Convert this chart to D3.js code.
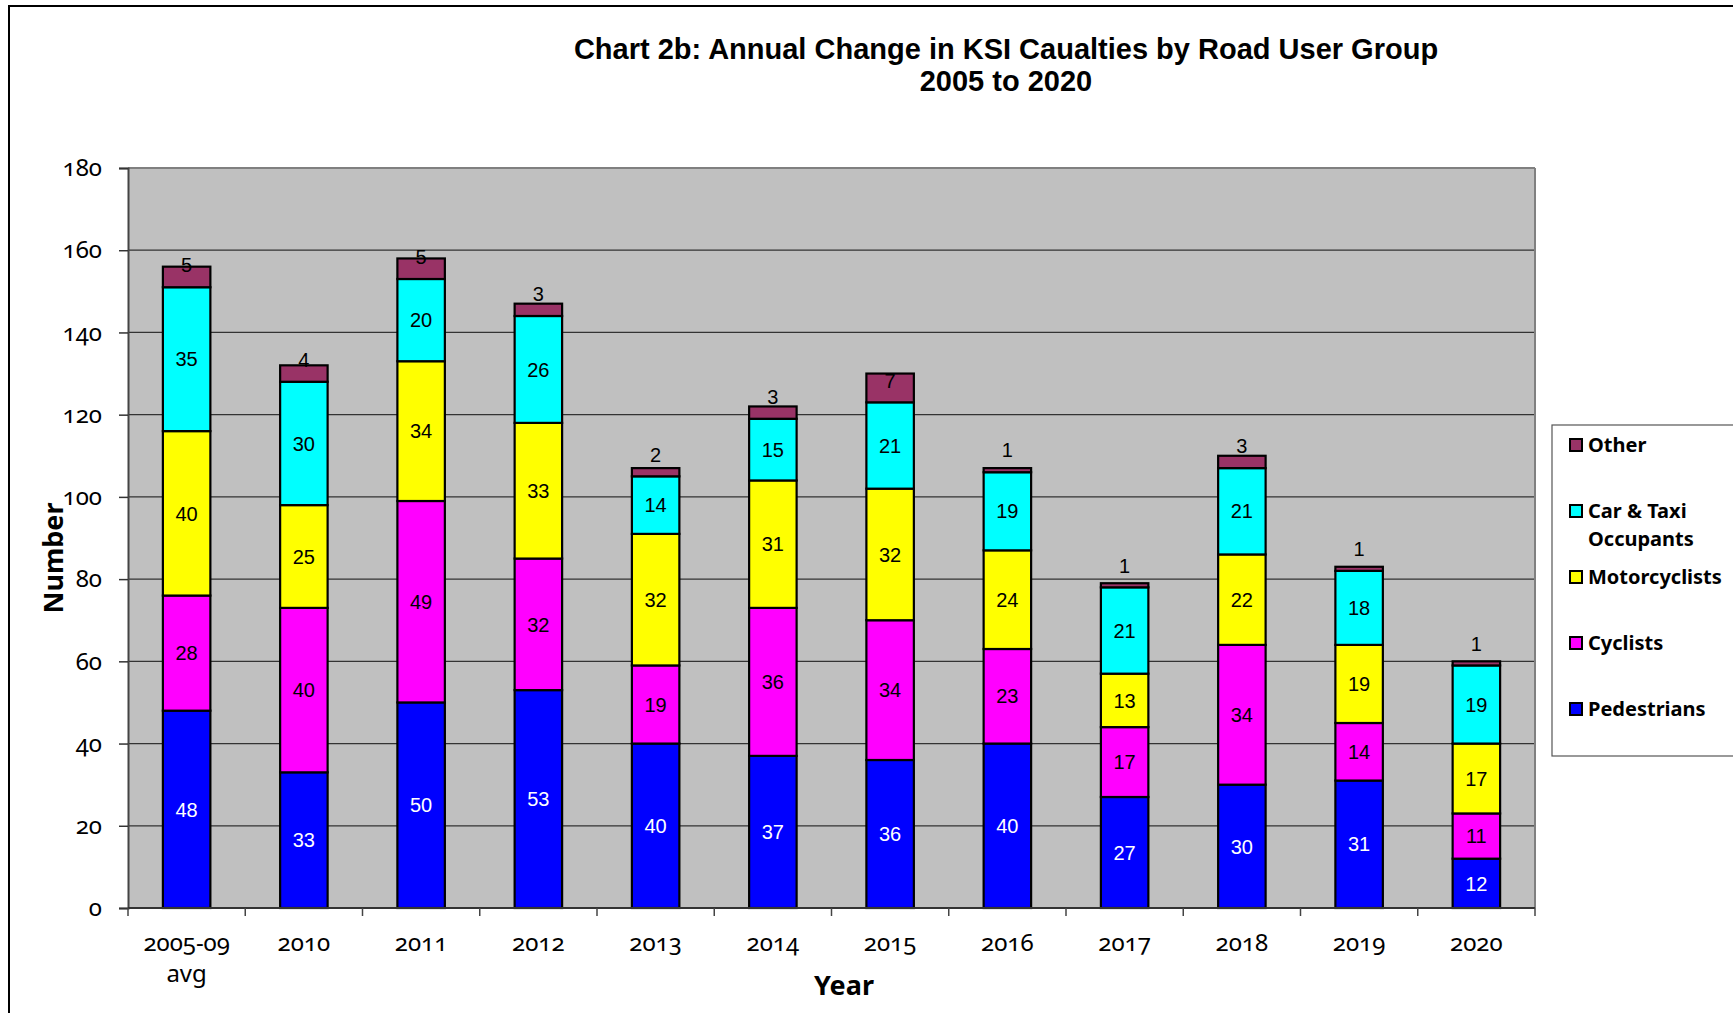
<!DOCTYPE html>
<html>
<head>
<meta charset="utf-8">
<script src="https://cdn.jsdelivr.net/npm/d3@7"></script>
<style>
  html, body { margin: 0; padding: 0; background: #fff; }
  svg { display: block; }
  .uifont { font-family: "Noto Sans", "Open Sans", sans-serif; font-variant-numeric: oldstyle-nums; font-feature-settings: "onum" 1; }
</style>
</head>
<body>
<svg id="chart" width="1733" height="1013"></svg>
<script>
// Killed or seriously injured casualties by road user group
const categories = ["2005-09 avg", "2010", "2011", "2012", "2013", "2014", "2015", "2016", "2017", "2018", "2019", "2020"];
const pedestrians = [48, 33, 50, 53, 40, 37, 36, 40, 27, 30, 31, 12];
const cyclists = [28, 40, 49, 32, 19, 36, 34, 23, 17, 34, 14, 11];
const motorcyclists = [40, 25, 34, 33, 32, 31, 32, 24, 13, 22, 19, 17];
const carTaxi = [35, 30, 20, 26, 14, 15, 21, 19, 21, 21, 18, 19];
const other = [5, 4, 5, 3, 2, 3, 7, 1, 1, 3, 1, 1];
const yTicks = [0, 20, 40, 60, 80, 100, 120, 140, 160, 180];

const seriesDefs = [
  { key: "Pedestrians", values: pedestrians, color: "#0000ff", text: "#ffffff" },
  { key: "Cyclists", values: cyclists, color: "#ff00ff", text: "#000000" },
  { key: "Motorcyclists", values: motorcyclists, color: "#ffff00", text: "#000000" },
  { key: "Car & Taxi Occupants", values: carTaxi, color: "#00ffff", text: "#000000" },
  { key: "Other", values: other, color: "#993366", text: "#000000" }
];

const rows = categories.map((c, i) => {
  const r = { cat: c };
  seriesDefs.forEach(s => { r[s.key] = s.values[i]; });
  return r;
});

const svg = d3.select("#chart");

// Outer chart frame
svg.append("rect")
  .attr("x", 9).attr("y", 6).attr("width", 1800).attr("height", 1100)
  .attr("fill", "#fff").attr("stroke", "#000").attr("stroke-width", 2);

const plot = { left: 128, right: 1535, top: 168, bottom: 908 };

const x = d3.scaleBand().domain(categories)
  .range([plot.left, plot.right]).paddingInner(0.595).paddingOuter(0.2975);
const y = d3.scaleLinear().domain([0, 180]).range([plot.bottom, plot.top]);

// Plot area
svg.append("rect")
  .attr("x", plot.left).attr("y", plot.top)
  .attr("width", plot.right - plot.left).attr("height", plot.bottom - plot.top)
  .attr("fill", "#c0c0c0");

// Gridlines
svg.append("g").selectAll("line").data(yTicks.filter(t => t > 0)).join("line")
  .attr("x1", plot.left).attr("x2", plot.right)
  .attr("y1", d => y(d)).attr("y2", d => y(d))
  .attr("stroke", d => d === 180 ? "#808080" : "#333")
  .attr("stroke-width", d => d === 180 ? 2 : 1.2);

// Right border of plot area
svg.append("line")
  .attr("x1", plot.right).attr("x2", plot.right)
  .attr("y1", plot.top).attr("y2", plot.bottom)
  .attr("stroke", "#808080").attr("stroke-width", 2);

// Stacked bars
const stack = d3.stack().keys(seriesDefs.map(s => s.key));
const stacked = stack(rows);

const barG = svg.append("g");
stacked.forEach((layer, li) => {
  const def = seriesDefs[li];
  barG.append("g").selectAll("rect").data(layer).join("rect")
    .attr("x", d => x(d.data.cat))
    .attr("y", d => y(d[1]))
    .attr("width", x.bandwidth())
    .attr("height", d => y(d[0]) - y(d[1]))
    .attr("fill", def.color)
    .attr("stroke", "#000")
    .attr("stroke-width", 2.2);
});

// Value labels
stacked.forEach((layer, li) => {
  const def = seriesDefs[li];
  const isTop = def.key === "Other";
  svg.append("g").selectAll("text").data(layer).join("text")
    .attr("x", d => x(d.data.cat) + x.bandwidth() / 2)
    .attr("y", d => isTop ? y(d[0]) - 22 : y((d[0] + d[1]) / 2))
    .attr("dy", "0.36em")
    .attr("text-anchor", "middle")
    .attr("font-family", "'Liberation Sans', Arial, sans-serif")
    .attr("font-size", 20)
    .attr("fill", def.text)
    .text(d => d[1] - d[0]);
});

// Y axis
const yAxis = d3.axisLeft(y).tickValues(yTicks).tickSize(9).tickPadding(17);
const yg = svg.append("g").attr("transform", `translate(${plot.left},0)`).call(yAxis);
yg.select(".domain").attr("stroke", "#444").attr("stroke-width", 2);
yg.selectAll(".tick line").attr("stroke", "#333").attr("stroke-width", 1.5);
yg.selectAll(".tick text")
  .attr("class", "uifont")
  .attr("font-size", 24).attr("fill", "#000");

// X axis: baseline with ticks between categories
svg.append("line")
  .attr("x1", plot.left).attr("x2", plot.right)
  .attr("y1", plot.bottom).attr("y2", plot.bottom)
  .attr("stroke", "#333").attr("stroke-width", 2);
const bounds = categories.map(c => x(c) - x.step() * x.paddingInner() / 2).concat([plot.right]);
bounds[0] = plot.left;
svg.append("g").selectAll("line").data(bounds).join("line")
  .attr("x1", d => d).attr("x2", d => d)
  .attr("y1", plot.bottom).attr("y2", plot.bottom + 8)
  .attr("stroke", "#444").attr("stroke-width", 1.5);

// Category labels
const xl = svg.append("g").selectAll("text").data(categories).join("text")
  .attr("class", "uifont")
  .attr("x", d => x(d) + x.bandwidth() / 2)
  .attr("y", 942)
  .attr("text-anchor", "middle")
  .attr("font-size", 24)
  .attr("fill", "#000");
xl.each(function(d) {
  const parts = d.split(" ");
  const t = d3.select(this);
  parts.forEach((p, i) => {
    t.append("tspan").attr("x", x(d) + x.bandwidth() / 2).attr("dy", i === 0 ? "0.36em" : "1.3em").text(p);
  });
});

// Title
const title = svg.append("text")
  .attr("text-anchor", "middle")
  .attr("font-family", "'Liberation Sans', Arial, sans-serif")
  .attr("font-weight", "bold").attr("font-size", 29).attr("fill", "#000");
title.append("tspan").attr("x", 1006).attr("y", 59).text("Chart 2b: Annual Change in KSI Caualties by Road User Group");
title.append("tspan").attr("x", 1006).attr("y", 91).text("2005 to 2020");

// Axis titles
svg.append("text")
  .attr("class", "uifont")
  .attr("x", 844).attr("y", 985).attr("dy", "0.36em")
  .attr("text-anchor", "middle").attr("font-weight", "bold").attr("font-size", 27)
  .text("Year");
svg.append("text")
  .attr("class", "uifont")
  .attr("transform", "translate(53,558) rotate(-90)")
  .attr("dy", "0.36em")
  .attr("text-anchor", "middle").attr("font-weight", "bold").attr("font-size", 27)
  .text("Number");

// Legend
const legend = svg.append("g");
legend.append("rect")
  .attr("x", 1552).attr("y", 425).attr("width", 300).attr("height", 331)
  .attr("fill", "#fff").attr("stroke", "#555").attr("stroke-width", 1.2);
const legendItems = [
  { key: "Other", lines: ["Other"], y: 445 },
  { key: "Car & Taxi Occupants", lines: ["Car & Taxi", "Occupants"], y: 511 },
  { key: "Motorcyclists", lines: ["Motorcyclists"], y: 577 },
  { key: "Cyclists", lines: ["Cyclists"], y: 643 },
  { key: "Pedestrians", lines: ["Pedestrians"], y: 709 }
];
const colorOf = k => seriesDefs.find(s => s.key === k).color;
legendItems.forEach(it => {
  legend.append("rect")
    .attr("x", 1570).attr("y", it.y - 6).attr("width", 12).attr("height", 12)
    .attr("fill", colorOf(it.key)).attr("stroke", "#000").attr("stroke-width", 2);
  const t = legend.append("text")
    .attr("class", "uifont")
    .attr("font-weight", "bold").attr("font-size", 20).attr("fill", "#000");
  it.lines.forEach((ln, i) => {
    t.append("tspan").attr("x", 1588).attr("y", it.y + i * 28).attr("dy", "0.36em").text(ln);
  });
});
</script>
</body>
</html>
